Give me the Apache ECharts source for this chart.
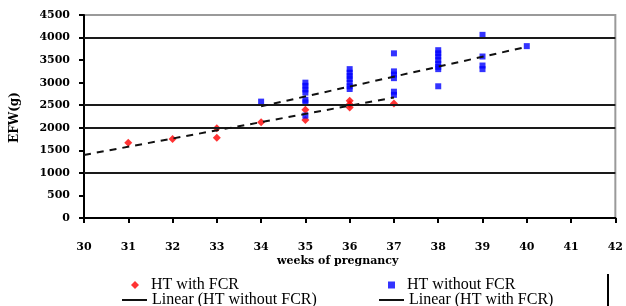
<!DOCTYPE html>
<html>
<head>
<meta charset="utf-8">
<script src="https://cdn.jsdelivr.net/npm/echarts@6/dist/echarts.min.js"></script>
<style>
html,body{margin:0;padding:0;background:#fff;}
#chart{width:626px;height:306px;}
</style>
</head>
<body>
<div id="chart"></div>
<script>
// HT with FCR (red) : [week, EFW g]
var withFCR = [
  [31,1670],[32,1750],[33,1990],[33,1780],[34,2120],
  [35,2400],[35,2170],
  [36,2600],[36,2520],[36,2450],
  [37,2540]
];
// HT without FCR (blue)
var withoutFCR = [
  [34,2580],
  [35,3000],[35,2930],[35,2850],[35,2780],[35,2620],[35,2560],[35,2270],
  [36,3300],[36,3220],[36,3150],[36,3080],[36,3000],[36,2920],[36,2860],
  [37,3650],[37,3250],[37,3180],[37,3100],[37,2800],[37,2730],
  [38,3720],[38,3650],[38,3580],[38,3500],[38,3420],[38,3350],[38,3300],[38,2920],
  [39,4060],[39,3580],[39,3380],[39,3300],
  [40,3810]
];
// Linear trend lines (end points)
var trendWithoutFCR = [[30,1397],[37,2672]];
var trendWithFCR = [[34,2474],[40,3794]];
// dark horizontal gridlines visible in the picture
var gridValues = [1000, 2000, 2500, 4000];

var xMin = 30, xMax = 42, xStep = 1;
var yMin = 0, yMax = 4500, yStep = 500;

var names = ['HT with FCR','HT without FCR','Linear (HT without FCR)','Linear (HT with FCR)'];

var tickFont = {fontFamily:'DejaVu Serif', fontWeight:'bold', fontSize:11, color:'#000'};

function leg(name, left, top, extra){
  var o = {data:[name], left:left, top:top, itemWidth:25, itemHeight:8, padding:0,
           textStyle:{fontFamily:'Liberation Serif', fontSize:16, color:'#000', lineHeight:16},
           selectedMode:false};
  for (var k in extra) o[k]=extra[k];
  return o;
}

var chart = echarts.init(document.getElementById('chart'), null, {renderer:'canvas'});
chart.setOption({
  animation:false,
  backgroundColor:'#fff',
  grid:{left:84, right:8, top:15, bottom:88, show:true, borderColor:'#9a9a9a', borderWidth:2, backgroundColor:'transparent'},
  xAxis:{
    type:'value', min:xMin, max:xMax, interval:xStep,
    axisLine:{show:true, onZero:false, lineStyle:{color:'#000', width:2}},
    axisTick:{show:true, inside:false, length:5, lineStyle:{color:'#000', width:2}},
    axisLabel:Object.assign({margin:24, formatter:function(v){return String(v);}}, tickFont),
    splitLine:{show:false}
  },
  yAxis:{
    type:'value', min:yMin, max:yMax, interval:yStep,
    axisLine:{show:true, onZero:false, lineStyle:{color:'#000', width:2}},
    axisTick:{show:true, inside:false, length:5, lineStyle:{color:'#000', width:2}},
    axisLabel:Object.assign({margin:14, formatter:function(v){return String(v);}}, tickFont),
    splitLine:{show:false}
  },
  legend:[
    leg(names[0], 131, 277, {itemWidth:8, textStyle:{fontFamily:'Liberation Serif', fontSize:16, color:'#000', lineHeight:16, padding:[0,0,0,7]}}),
    leg(names[1], 388, 277, {itemWidth:7, itemHeight:7, textStyle:{fontFamily:'Liberation Serif', fontSize:16, color:'#000', lineHeight:16, padding:[0,0,0,7]}}),
    leg(names[2], 122, 292, {icon:'rect', itemHeight:2}),
    leg(names[3], 379, 292, {icon:'rect', itemHeight:2})
  ],
  graphic:[
    {type:'text', left:277, top:256, style:{text:'weeks of pregnancy', font:'bold 11px "DejaVu Serif"', fill:'#000'}},
    {type:'text', x:9, y:143, rotation:Math.PI/2, style:{text:'EFW(g)', font:'bold 12px "DejaVu Serif"', fill:'#000'}},
    {type:'line', shape:{x1:608, y1:274, x2:608, y2:306}, style:{stroke:'#000', lineWidth:2}}
  ],
  series:[
    {
      name:names[0], type:'scatter', data:withFCR, symbol:'diamond', symbolSize:8,
      itemStyle:{color:'#ff0000'}, z:4,
      markLine:{
        silent:true, symbol:'none', label:{show:false},
        lineStyle:{color:'#1a1a1a', width:2, type:'solid'},
        data:gridValues.map(function(v){return {yAxis:v};})
      }
    },
    {name:names[1], type:'scatter', data:withoutFCR, symbol:'rect', symbolSize:6, itemStyle:{color:'#0000ff'}, z:4},
    {name:names[2], type:'line', data:trendWithoutFCR, symbol:'none', color:'#111',
     lineStyle:{color:'#111', width:2, type:[7,6]}, z:5},
    {name:names[3], type:'line', data:trendWithFCR, symbol:'none', color:'#111',
     lineStyle:{color:'#111', width:2, type:[7,6]}, z:5}
  ]
});
</script>
</body>
</html>
